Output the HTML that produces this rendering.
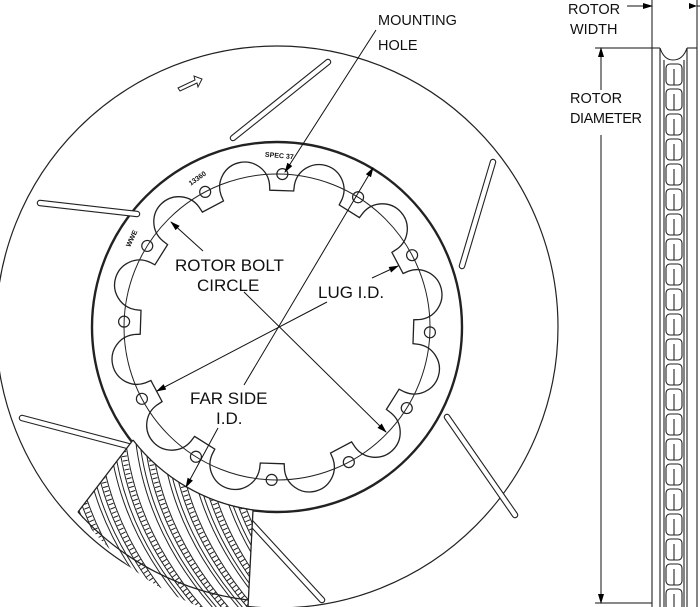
<!DOCTYPE html>
<html><head><meta charset="utf-8"><style>
html,body{margin:0;padding:0;background:#fff}
svg{display:block}
text{font-family:"Liberation Sans",Arial,sans-serif;fill:#111}
</style></head><body>
<svg id="s" width="700" height="607" viewBox="0 0 700 607" xmlns="http://www.w3.org/2000/svg">
<defs>
<marker id="ah" markerWidth="10" markerHeight="8" refX="9" refY="4" orient="auto" markerUnits="userSpaceOnUse">
<path d="M0,1 L10,4 L0,7 Z" fill="#000"/></marker>
<clipPath id="wedge"><path d="M133,440 A185,185 0 0 0 253,510 L248,607 L200,607 A270,270 0 0 1 78,512 Z"/></clipPath>
</defs>
<g fill="none" stroke="#222" stroke-width="1.2">
<circle cx="277" cy="327" r="281"/>
<circle cx="277" cy="327" r="185" stroke-width="2.4"/>
<circle cx="277" cy="327" r="153" stroke-width="1"/>
<path id="inner" stroke-width="1.3"/>
<g id="holes"></g>
</g>
<g id="slots" fill="none" stroke-linecap="round"></g>
<g clip-path="url(#wedge)">
<rect x="70" y="420" width="200" height="200" fill="#fff"/>
<g id="vanes" fill="none" stroke="#222" stroke-width="1"></g>
</g>
<path d="M133,440 A185,185 0 0 0 253,510 L248,607 M133,440 L78,512" fill="none" stroke="#222" stroke-width="1.3"/>
<path d="M78,512 A270,270 0 0 0 248,600" fill="none" stroke="#222" stroke-width="1.3"/>
<path d="M178,88 L195,80 L194,76 L202,79 L198,87 L197,83 L180,91 Z" fill="none" stroke="#222" stroke-width="1"/>
<text x="265" y="158" font-size="7" font-weight="bold" transform="rotate(5 280 155)">SPEC 37</text>
<text x="187" y="182" font-size="7" font-weight="bold" transform="rotate(-35 195 178)">13360</text>
<text x="122" y="245" font-size="7" font-weight="bold" transform="rotate(-65 128 240)">WWE</text>
<g stroke="#111" stroke-width="1" fill="none">
<line x1="376" y1="30" x2="285" y2="172" marker-end="url(#ah)"/>
<line x1="244" y1="385" x2="373" y2="168" marker-end="url(#ah)"/>
<line x1="244" y1="292" x2="386" y2="432" marker-end="url(#ah)"/>
<line x1="327" y1="302" x2="157" y2="391" marker-end="url(#ah)"/>
<line x1="203" y1="251" x2="171" y2="222" marker-end="url(#ah)"/>
<line x1="372" y1="278" x2="398" y2="266" marker-end="url(#ah)"/>
<line x1="218" y1="428" x2="186" y2="487" marker-end="url(#ah)"/>
<line x1="652" y1="0" x2="652" y2="48"/>
<line x1="697" y1="0" x2="697" y2="48"/>
<line x1="627" y1="6" x2="652" y2="6" marker-end="url(#ah)"/>
<line x1="700" y1="6" x2="697" y2="6"/>
<line x1="595" y1="48" x2="652" y2="48"/>
<line x1="595" y1="603" x2="652" y2="603"/>
<line x1="601" y1="90" x2="601" y2="48" marker-end="url(#ah)"/>
<line x1="601" y1="135" x2="601" y2="603" marker-end="url(#ah)"/>
</g>
<path d="M697,6 L689,3 L689,9 Z" fill="#000"/>
<g fill="none" stroke="#222" stroke-width="1.1">
<line x1="652" y1="48" x2="652" y2="607"/>
<line x1="660" y1="48" x2="660" y2="607"/>
<line x1="687" y1="48" x2="687" y2="607"/>
<line x1="697" y1="48" x2="697" y2="607"/>
<line x1="652" y1="48" x2="660" y2="48"/>
<line x1="687" y1="48" x2="697" y2="48"/>
<path d="M660,48 Q664,60 673,60 Q683,60 687,48"/>
<line x1="664" y1="60" x2="664" y2="607"/>
<line x1="684" y1="60" x2="684" y2="607"/>
<g id="rv"></g>
</g>
<g font-size="14.5">
<text x="378" y="25">MOUNTING</text>
<text x="378" y="50">HOLE</text>
<text x="568" y="14">ROTOR</text>
<text x="570" y="34">WIDTH</text>
<text x="570" y="103">ROTOR</text>
<text x="570" y="123" textLength="72">DIAMETER</text>
</g>
<g font-size="17">
<text x="175" y="271">ROTOR BOLT</text>
<text x="197" y="291">CIRCLE</text>
<text x="318" y="298">LUG I.D.</text>
<text x="190" y="404">FAR SIDE</text>
<text x="216" y="424">I.D.</text>
</g>
</svg>
<script>
var cx=277,cy=327,NS="http://www.w3.org/2000/svg";
function P(r,a){a=a*Math.PI/180;return [cx+r*Math.cos(a),cy+r*Math.sin(a)];}
function f(p){return p[0].toFixed(1)+","+p[1].toFixed(1);}
var d="";
for(var k=0;k<12;k++){
 var t=-88+30*k;
 var a1=P(143,t-5),b1=P(137,t-5),b2=P(137,t+5),a2=P(143,t+5),n=P(143,t+25);
 d+=(k==0?"M"+f(a1):"L"+f(a1))+" L"+f(b1)+" L"+f(b2)+" L"+f(a2)+" A25,25 0 1 1 "+f(n)+" ";
 var h=P(153,t);var c=document.createElementNS(NS,"circle");
 c.setAttribute("cx",h[0]);c.setAttribute("cy",h[1]);c.setAttribute("r",5.5);
 document.getElementById("holes").appendChild(c);
}
document.getElementById("inner").setAttribute("d",d+"Z");
var sl=[[233,138,328,62],[462,266,493,162],[40,203,137,214],[447,417,515,515],[22,418,128,446],[242,513,322,600]];
var g=document.getElementById("slots");
sl.forEach(function(s){
 [["#222",6.5],["#fff",4.3]].forEach(function(st){
  var l=document.createElementNS(NS,"line");
  l.setAttribute("x1",s[0]);l.setAttribute("y1",s[1]);l.setAttribute("x2",s[2]);l.setAttribute("y2",s[3]);
  l.setAttribute("stroke",st[0]);l.setAttribute("stroke-width",st[1]);l.setAttribute("stroke-linecap","round");
  g.appendChild(l);});
});
var v=document.getElementById("vanes"),h="";
for(var x=30;x<300;x+=26){
 [0,4,9,16].forEach(function(dx){
  h+='<path d="M'+(x+dx)+',420 Q'+(x+dx+5)+',530 '+(x+dx+90)+',620"/>';
 });
 h+='<path d="M'+(x+12.5)+',420 Q'+(x+17.5)+',530 '+(x+102.5)+',620" stroke-width="5" stroke-dasharray="1 3.5"/>';
}
v.innerHTML=h;
var r=document.getElementById("rv"),q="";
for(var y=64;y<607;y+=25){q+='<rect x="666" y="'+y+'" width="16" height="21" rx="4"/><line x1="674" y1="'+(y+5)+'" x2="674" y2="'+(y+21)+'"/>';}
r.innerHTML=q;
</script>
</body></html>
